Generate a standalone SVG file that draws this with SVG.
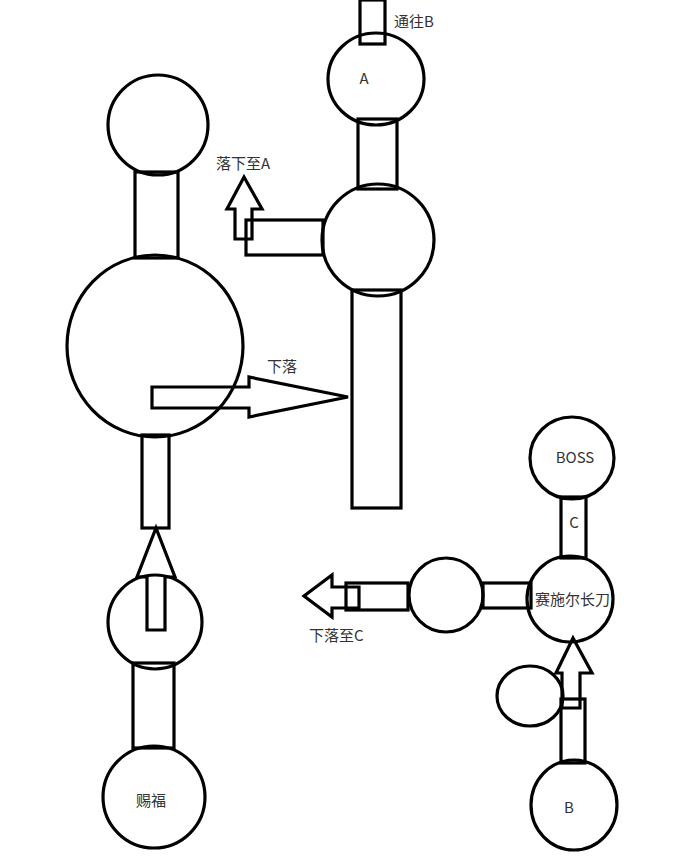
<svg xmlns="http://www.w3.org/2000/svg" width="698" height="862" viewBox="0 0 698 862">
<style>
.s{fill:none;stroke:#000;stroke-width:3.2}
.t{font-family:"Noto Sans CJK SC","Liberation Sans",sans-serif;font-size:15px;fill:#333}
.m{text-anchor:middle}
</style>
<rect width="698" height="862" fill="#fff"/>
<g id="connectors">
<rect class="s" x="360" y="0" width="25" height="44"/>
<rect class="s" x="358" y="119" width="39" height="70"/>
<rect class="s" x="246" y="220" width="77" height="35"/>
<rect class="s" x="352" y="290" width="49" height="218"/>
<rect class="s" x="135" y="172" width="43" height="86"/>
<rect class="s" x="142" y="435" width="27" height="93"/>
<rect class="s" x="133" y="663" width="41" height="85"/>
<rect class="s" x="346" y="583" width="62" height="27"/>
<rect class="s" x="483" y="583" width="48" height="25"/>
<rect class="s" x="561" y="497" width="25" height="61"/>
<rect class="s" x="561" y="699" width="24" height="64"/>
</g>
<g id="arrow-up-A"><polygon class="s" points="235,239 235,209 227,209 244,177 262,209 252,209 252,239"/></g>
<g id="arrow-fall"><polygon class="s" points="152,387 249,387 249,377 348,397 249,417 249,408 152,408"/></g>
<g id="arrow-up-left"><polygon class="s" points="147,630 147,577 137,577 156,528 175,577 165,577 165,630"/></g>
<g id="arrow-left-C"><polygon class="s" points="359,587 332,587 332,575 304,596 332,617 332,608 359,608"/></g>
<g id="arrow-up-B"><polygon class="s" points="562,708 562,673 556,673 573,638 592,673 580,673 580,708"/></g>
<g id="node-A"><ellipse class="s" cx="376" cy="79" rx="48" ry="46"/><text class="t m" x="364" y="84">A</text></g>
<g id="node-mid"><circle class="s" cx="378" cy="240" r="56"/></g>
<g id="node-top-left"><circle class="s" cx="158" cy="125" r="50"/></g>
<g id="node-big"><ellipse class="s" cx="155" cy="346" rx="88" ry="91"/></g>
<g id="node-small-left"><circle class="s" cx="155" cy="622" r="47"/></g>
<g id="node-cifu"><ellipse class="s" cx="154" cy="797" rx="51" ry="51"/><text class="t m" x="151" y="806">赐福</text></g>
<g id="node-boss"><ellipse class="s" cx="572" cy="458" rx="42" ry="41"/><text class="t m" x="575" y="463">BOSS</text></g>
<g id="node-sword"><circle class="s" cx="570" cy="599" r="43"/><text class="t" x="535" y="605">赛施尔长刀</text></g>
<g id="node-mid-right"><circle class="s" cx="446" cy="595" r="37"/></g>
<g id="node-side"><ellipse class="s" cx="530" cy="696" rx="33" ry="30"/></g>
<g id="node-B"><ellipse class="s" cx="574" cy="805" rx="43" ry="45"/><text class="t m" x="569" y="813">B</text></g>
<g id="labels">
<text class="t" x="394" y="27">通往B</text>
<text class="t" x="216" y="169">落下至A</text>
<text class="t" x="267" y="372">下落</text>
<text class="t m" x="574" y="528">C</text>
<text class="t" x="309" y="641">下落至C</text>
</g>
</svg>
